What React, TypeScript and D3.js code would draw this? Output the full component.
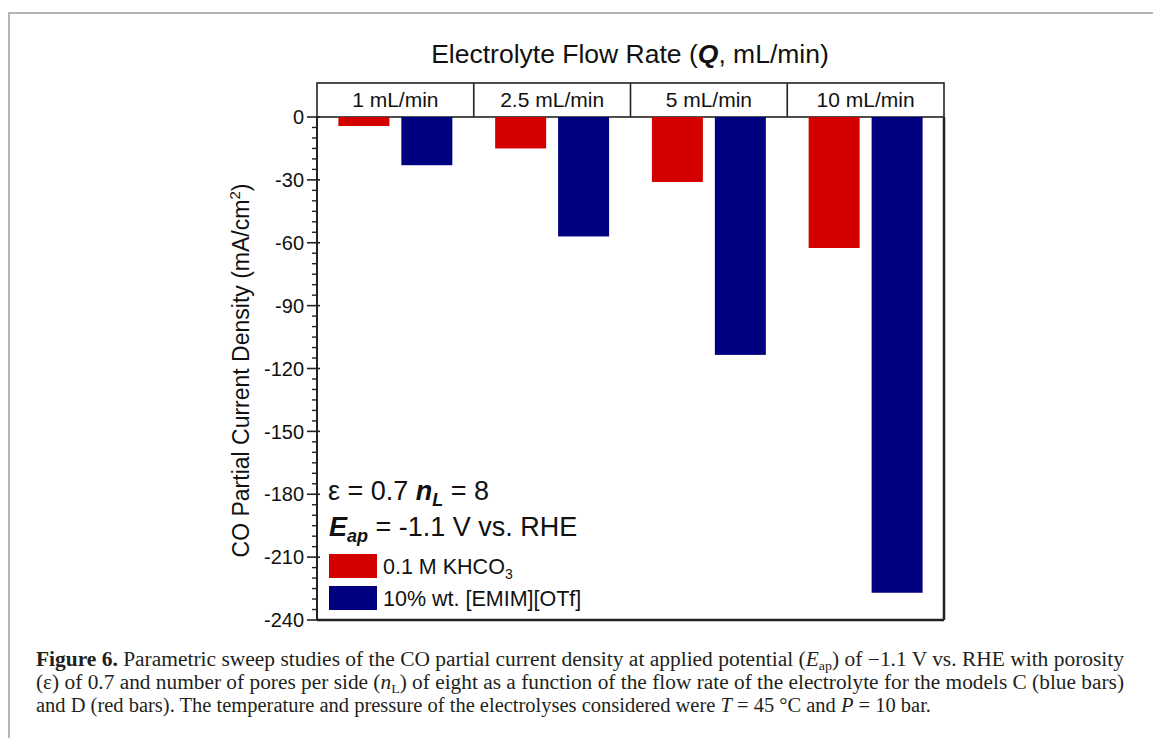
import React from "react";
import * as d3 from "d3";

const categories = ["1 mL/min", "2.5 mL/min", "5 mL/min", "10 mL/min"];
const seriesNames = ["0.1 M KHCO3", "10% wt. [EMIM][OTf]"];
const khco3 = [-4.3, -15, -31, -62.5];
const emim = [-23, -57, -113.5, -227];
const majorTicks = [0, -30, -60, -90, -120, -150, -180, -210, -240];

const W = 1153;
const H = 738;
const colors = ["#d40000", "#000080"];
const sans = "'Liberation Sans', Arial, Helvetica, sans-serif";
const serif = "'Liberation Serif', 'Times New Roman', serif";

const App = () => {
  const left = 317;
  const right = 944;
  const top = 117;
  const bottom = 620;
  const headerTop = 83;

  const y = d3.scaleLinear().domain([0, -240]).range([top, bottom]);
  const x0 = d3.scaleBand().domain(categories).range([left, right]);
  const x1 = d3
    .scaleBand()
    .domain(seriesNames)
    .range([0, x0.bandwidth()])
    .paddingInner(0.19)
    .paddingOuter(0.34);

  const minorTicks = d3.range(0, -241, -5).filter((v) => v % 30 !== 0);
  const rows = categories.map((c, i) => ({ cat: c, vals: [khco3[i], emim[i]] }));

  return (
    <svg
      width={W}
      height={H}
      style={{ position: "absolute", left: 0, top: 0, background: "#fff" }}
    >
      {/* page frame */}
      <path d={`M9,${H} V13 H${W}`} fill="none" stroke="#b4b4b4" strokeWidth={2} />

      <text x={630} y={63} textAnchor="middle" fontFamily={sans} fontSize={26.5} fill="#111">
        Electrolyte Flow Rate (<tspan fontWeight="bold" fontStyle="italic">Q</tspan>, mL/min)
      </text>

      {/* header strip */}
      <rect x={left} y={headerTop} width={right - left} height={top - headerTop} fill="none" stroke="#222" strokeWidth={1.6} />
      {categories.slice(1).map((c) => (
        <line key={c} x1={x0(c)} x2={x0(c)} y1={headerTop} y2={top} stroke="#222" strokeWidth={1.6} />
      ))}
      {categories.map((c) => (
        <text key={c} x={x0(c)! + x0.bandwidth() / 2} y={107} textAnchor="middle" fontFamily={sans} fontSize={21} fill="#111">
          {c}
        </text>
      ))}

      {/* bars */}
      {rows.map((r) => (
        <g key={r.cat} transform={`translate(${x0(r.cat)},0)`}>
          {r.vals.map((v, j) => (
            <rect
              key={j}
              x={x1(seriesNames[j])}
              y={y(0)}
              width={x1.bandwidth()}
              height={y(v) - y(0)}
              fill={colors[j]}
            />
          ))}
        </g>
      ))}

      {/* frame */}
      <line x1={left} x2={left} y1={top} y2={bottom} stroke="#222" strokeWidth={2} />
      <line x1={left} x2={right} y1={bottom} y2={bottom} stroke="#222" strokeWidth={2.5} />
      <line x1={right} x2={right} y1={top} y2={bottom} stroke="#222" strokeWidth={2.5} />

      {/* y ticks */}
      {majorTicks.map((t) => (
        <g key={t}>
          <line x1={left - 10} x2={left + 3} y1={y(t)} y2={y(t)} stroke="#222" strokeWidth={1.6} />
          <text x={304} y={y(t)} dy="0.36em" textAnchor="end" fontFamily={sans} fontSize={20} fill="#111">
            {t}
          </text>
        </g>
      ))}
      {minorTicks.map((t) => (
        <line key={t} x1={left - 5} x2={left} y1={y(t)} y2={y(t)} stroke="#222" strokeWidth={1.4} />
      ))}

      <text
        transform={`translate(249,${(top + bottom) / 2 + 2}) rotate(-90)`}
        textAnchor="middle"
        fontFamily={sans}
        fontSize={23}
        fill="#111"
      >
        CO Partial Current Density (mA/cm<tspan dy={-9} fontSize={15}>2</tspan><tspan dy={9}>)</tspan>
      </text>

      {/* annotation */}
      <text x={328} y={500} fontFamily={sans} fontSize={27} fill="#111">
        ε = 0.7 <tspan fontWeight="bold" fontStyle="italic">n</tspan>
        <tspan fontWeight="bold" fontStyle="italic" fontSize={18} dy={6}>L</tspan>
        <tspan dy={-6}> = 8</tspan>
      </text>
      <text x={329} y={536} fontFamily={sans} fontSize={27} fill="#111">
        <tspan fontWeight="bold" fontStyle="italic">E</tspan>
        <tspan fontWeight="bold" fontStyle="italic" fontSize={18} dy={6}>ap</tspan>
        <tspan dy={-6}> = -1.1 V vs. RHE</tspan>
      </text>

      {/* legend */}
      {seriesNames.map((s, i) => (
        <g key={s} transform={`translate(329,${554 + i * 32})`}>
          <rect width={48} height={24} fill={colors[i]} />
          <text x={54} y={20} fontFamily={sans} fontSize={21.5} fill="#111">
            {i === 0 ? (
              <>
                0.1 M KHCO<tspan fontSize={14} dy={5}>3</tspan>
              </>
            ) : (
              s
            )}
          </text>
        </g>
      ))}

      {/* caption */}
      <g fontFamily={serif} fontSize={20} fill="#231f20">
        <text x={36} y={666} textLength={1088} lengthAdjust="spacingAndGlyphs">
          <tspan fontWeight="bold">Figure 6.</tspan> Parametric sweep studies of the CO partial current density at applied potential (
          <tspan fontStyle="italic">E</tspan>
          <tspan fontSize={13} dy={4}>ap</tspan>
          <tspan dy={-4}>) of −1.1 V vs. RHE with porosity</tspan>
        </text>
        <text x={36} y={689} textLength={1088} lengthAdjust="spacingAndGlyphs">
          (ε) of 0.7 and number of pores per side (<tspan fontStyle="italic">n</tspan>
          <tspan fontSize={13} dy={4}>L</tspan>
          <tspan dy={-4}>) of eight as a function of the flow rate of the electrolyte for the models C (blue bars)</tspan>
        </text>
        <text x={36} y={712} textLength={895} lengthAdjust="spacingAndGlyphs">
          and D (red bars). The temperature and pressure of the electrolyses considered were <tspan fontStyle="italic">T</tspan> = 45 °C and{" "}
          <tspan fontStyle="italic">P</tspan> = 10 bar.
        </text>
      </g>
    </svg>
  );
};

export default App;
